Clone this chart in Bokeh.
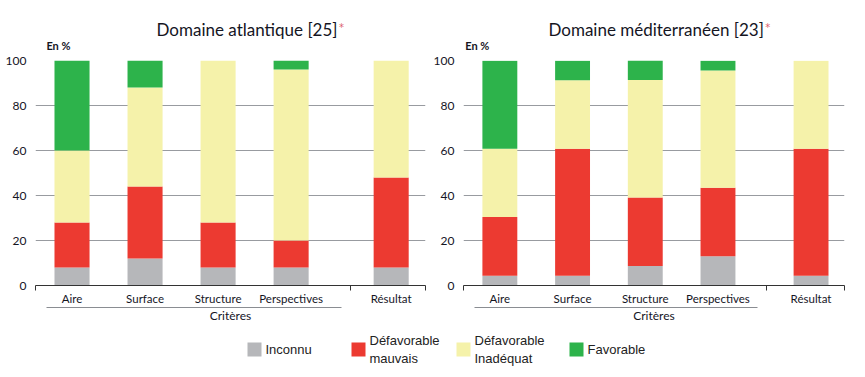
from bokeh.plotting import figure
from bokeh.layouts import column, row
from bokeh.models import ColumnDataSource, Range1d, FixedTicker, LinearAxis
from bokeh.core.properties import value
from bokeh.embed import file_html
from bokeh.resources import INLINE

# ---------------- data ----------------
categories = ["Aire", "Surface", "Structure", "Perspectives", "Résultat"]
statuses = ["Inconnu", "Défavorable mauvais", "Défavorable Inadéquat", "Favorable"]
legend_lines = [["Inconnu"], ["Défavorable", "mauvais"], ["Défavorable", "Inadéquat"], ["Favorable"]]
colors = ["#b6b7ba", "#ec3a31", "#f5f2aa", "#2db34b"]
y_ticks = [0, 20, 40, 60, 80, 100]

atl_title = "Domaine atlantique [25]"
atl_inconnu = [8, 12, 8, 8, 8]
atl_mauvais = [20, 32, 20, 12, 40]
atl_inadequat = [32, 44, 72, 76, 52]
atl_favorable = [40, 12, 0, 4, 0]

med_title = "Domaine méditerranéen [23]"
med_inconnu = [4.3, 4.3, 8.7, 13.0, 4.3]
med_mauvais = [26.1, 56.5, 30.4, 30.4, 56.5]
med_inadequat = [30.4, 30.4, 52.2, 52.2, 39.1]
med_favorable = [39.1, 8.7, 8.7, 4.3, 0]

FONT = "Lato"
TXT = "#15151f"
HEAD_H = 53


def header(title, width, title_right, en_x):
    h = figure(width=width, height=HEAD_H, x_range=Range1d(0, width), y_range=Range1d(HEAD_H, 0),
               output_backend="svg", toolbar_location=None,
               min_border_left=0, min_border_right=0, min_border_top=0, min_border_bottom=0)
    h.axis.visible = False
    h.grid.visible = False
    h.outline_line_color = None
    h.text(x=[title_right], y=[29], text=[title], text_align="right", text_baseline="alphabetic",
           text_font=value(FONT), text_font_size=value("17px"), text_color=TXT)
    h.text(x=[title_right + 1.5], y=[27], text=["*"], text_align="left", text_baseline="alphabetic",
           text_font=value("DejaVu Sans"), text_font_size=value("10px"), text_color="#dc5f70")
    h.text(x=[en_x], y=[45], text=["En %"], text_align="left", text_baseline="alphabetic",
           text_font=value(FONT), text_font_size=value("11px"), text_font_style="bold",
           text_color=TXT)
    return h


def panel(series, width, bl, br, x_end, res_pos, sep):
    xs = [0.5, 1.5, 2.5, 3.5, res_pos]
    keys = ["s0", "s1", "s2", "s3"]
    src = ColumnDataSource(dict(x=xs, s0=series[0], s1=series[1], s2=series[2], s3=series[3]))
    p = figure(width=width, height=330 - HEAD_H, x_range=Range1d(0, x_end), y_range=Range1d(0, 100),
               output_backend="svg", toolbar_location=None,
               min_border_left=bl, min_border_right=br, min_border_top=60 - HEAD_H,
               min_border_bottom=45)
    p.vbar_stack(keys, x="x", width=0.48, color=colors, line_color=None, source=src)
    p.outline_line_color = None
    p.xgrid.visible = False
    p.ygrid.ticker = FixedTicker(ticks=y_ticks[1:])
    p.ygrid.grid_line_color = "#989ba0"
    p.ygrid.grid_line_width = 1
    p.ygrid.level = "underlay"

    ya = p.yaxis[0]
    ya.ticker = FixedTicker(ticks=y_ticks)
    ya.axis_line_color = None
    ya.major_tick_line_color = None
    ya.minor_tick_line_color = None
    ya.major_label_standoff = 3
    ya.major_label_text_font = FONT
    ya.major_label_text_font_size = "12px"
    ya.major_label_text_color = TXT

    xa = p.xaxis[0]
    xa.ticker = FixedTicker(ticks=xs, minor_ticks=[0, sep, x_end])
    xa.major_label_overrides = {x: c for x, c in zip(xs, categories)}
    xa.axis_line_color = "#333333"
    xa.axis_line_width = 1.2
    xa.major_tick_line_color = None
    xa.minor_tick_line_color = "#333333"
    xa.minor_tick_out = 5
    xa.minor_tick_in = 0
    xa.major_label_standoff = 0
    xa.major_label_text_font = FONT
    xa.major_label_text_font_size = "11.5px"
    xa.major_label_text_color = TXT

    ax2 = LinearAxis(ticker=FixedTicker(ticks=[]), bounds=(0.15, sep - 0.12),
                     axis_label="Critères", major_label_text_font_size="0px",
                     major_tick_line_color=None, minor_tick_line_color=None,
                     axis_line_color="#8a8d92", axis_label_standoff=0,
                     axis_label_text_font=FONT, axis_label_text_font_size="12px",
                     axis_label_text_font_style="normal", axis_label_text_color=TXT)
    p.add_layout(ax2, "below")
    return p


h1 = header(atl_title, 430, 333, 12)
p1 = panel([atl_inconnu, atl_mauvais, atl_inadequat, atl_favorable], 430, 35, 5, 5.34, 4.87, 4.31)
h2 = header(med_title, 435, 343, 2)
p2 = panel([med_inconnu, med_mauvais, med_inadequat, med_favorable], 435, 25, 21, 5.24, 4.78, 4.17)

# ---------------- legend ----------------
leg = figure(width=865, height=47, x_range=Range1d(0, 865), y_range=Range1d(47, 0),
             output_backend="svg", toolbar_location=None,
             min_border_left=0, min_border_right=0, min_border_top=0, min_border_bottom=0)
leg.axis.visible = False
leg.grid.visible = False
leg.outline_line_color = None
key_x = [254, 358, 463, 576]
leg.rect(x=key_x, y=[19] * 4, width=14, height=14, color=colors, line_color=None)
for kx, lines in zip(key_x, legend_lines):
    ys = [19] if len(lines) == 1 else [10, 28]
    leg.text(x=[kx + 11] * len(lines), y=ys, text=lines, text_baseline="middle",
             text_align="left", text_font=value("Liberation Sans"),
             text_font_size=value("13px"), text_color="#222222")

layout = column(row(column(h1, p1, spacing=0), column(h2, p2, spacing=0), spacing=0), leg, spacing=0)
open("out.html", "w").write(file_html(layout, INLINE))
